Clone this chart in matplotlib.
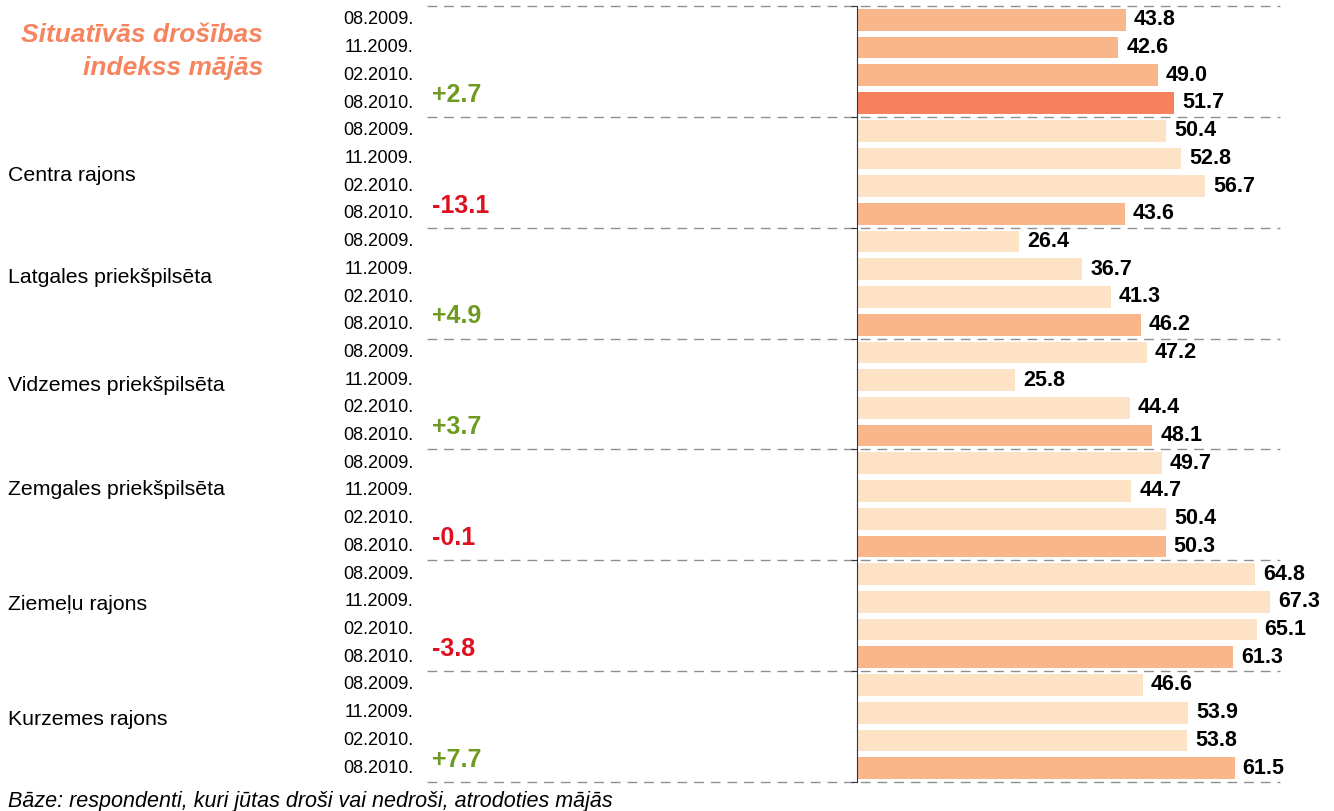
import matplotlib.pyplot as plt
import numpy as np

plt.rcParams['font.family'] = ['Liberation Sans', 'DejaVu Sans']

groups = ['', 'Centra rajons', 'Latgales priekšpilsēta', 'Vidzemes priekšpilsēta',
          'Zemgales priekšpilsēta', 'Ziemeļu rajons', 'Kurzemes rajons']
periods = ['08.2009.', '11.2009.', '02.2010.', '08.2010.']
values = [
    [43.8, 42.6, 49.0, 51.7],
    [50.4, 52.8, 56.7, 43.6],
    [26.4, 36.7, 41.3, 46.2],
    [47.2, 25.8, 44.4, 48.1],
    [49.7, 44.7, 50.4, 50.3],
    [64.8, 67.3, 65.1, 61.3],
    [46.6, 53.9, 53.8, 61.5],
]
changes = ['+2.7', '-13.1', '+4.9', '+3.7', '-0.1', '-3.8', '+7.7']

light = '#FDE2C5'
mid = '#F8B68A'
dark = '#F6815D'
green = '#6E9A22'
red = '#DE0F1E'

# small vertical nudges of the group names (in rows), as in the original layout
name_shift = [0, 0.1, -0.2, -0.3, -0.55, -0.4, -0.25]

fig = plt.figure(figsize=(13.34, 8.11), dpi=100)
ax = fig.add_axes([427 / 1334, 1 - 782 / 811, (1280 - 427) / 1334, 776 / 811])

n = len(periods)
rows = len(groups) * n
for g, vals in enumerate(values):
    for i, v in enumerate(vals):
        r = g * n + i
        if g == 0:
            c = dark if i == n - 1 else mid
        else:
            c = mid if i == n - 1 else light
        ax.barh(r + 0.5, v, height=0.78, color=c, zorder=2)
        ax.text(v + 1.3, r + 0.5, f'{v:.1f}', ha='left', va='center',
                fontsize=15.5, fontweight='bold', clip_on=False)
        ax.annotate(periods[i], xy=(413 / 1334, r + 0.5),
                    xycoords=('figure fraction', 'data'),
                    ha='right', va='center', fontsize=13)

ax.set_xlim(-70.0, 68.9)
ax.set_ylim(rows, 0)

# separators
for g in range(len(groups) + 1):
    ax.axhline(g * n, color='#8f8f8f', lw=1, ls=(0, (7, 5)), zorder=1, clip_on=False)

# group names and changes
for g, name in enumerate(groups):
    if name:
        ax.annotate(name, xy=(8 / 1334, g * n + 2 + name_shift[g]),
                    xycoords=('figure fraction', 'data'),
                    ha='left', va='center', fontsize=15.3)
    col = green if changes[g].startswith('+') else red
    ax.text(-69.2, g * n + 3.2, changes[g], ha='left', va='center',
            fontsize=18, fontweight='bold', color=col)

for s in ['top', 'right', 'bottom']:
    ax.spines[s].set_visible(False)
ax.spines['left'].set_position(('data', 0))
ax.spines['left'].set_color('#333333')
ax.set_yticks(np.arange(0, rows + 1, n))
ax.set_yticklabels([])
ax.tick_params(axis='y', direction='out', length=4, color='#333333')
ax.set_xticks([])

fig.text(263 / 1334, 1 - 35 / 811, 'Situatīvās drošības', ha='right', va='center',
         fontsize=19, fontweight='bold', fontstyle='italic', color='#F5845F')
fig.text(263 / 1334, 1 - 68 / 811, 'indekss mājās', ha='right', va='center',
         fontsize=19, fontweight='bold', fontstyle='italic', color='#F5845F')

fig.text(8 / 1334, 1 - 801 / 811, 'Bāze: respondenti, kuri jūtas droši vai nedroši, atrodoties mājās',
         ha='left', va='center', fontsize=15.5, fontstyle='italic')

fig.savefig('out.png', dpi=100)
